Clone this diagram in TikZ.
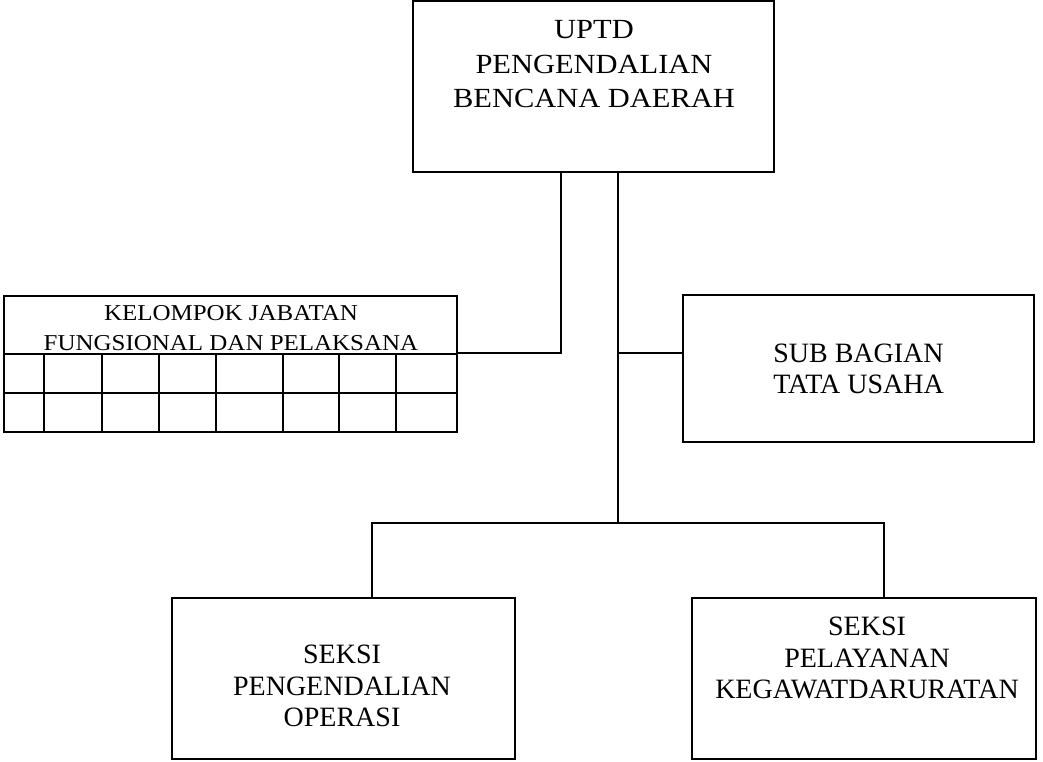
\documentclass[tikz,border=0pt]{standalone}
\usepackage{fontspec}
\setmainfont{Liberation Serif}
\newfontfamily\widefont[FakeStretch=1.1]{Liberation Serif}
\begin{document}
\begin{tikzpicture}[x=1pt,y=-1pt,line width=2pt,
  box/.style={draw,rectangle,inner sep=0pt,outer sep=0pt},
  txt/.style={anchor=base,inner sep=0pt,font=\fontsize{28}{30}\selectfont},
  toptxt/.style={anchor=base,inner sep=0pt,font=\widefont\fontsize{27.7}{30}\selectfont},
  tbltxt/.style={anchor=base,inner sep=0pt,font=\widefont\fontsize{22.7}{26}\selectfont}]
\useasboundingbox (0,0) rectangle (1043,761);
% boxes
\node[box,minimum width=361pt,minimum height=171pt] (uptd) at (593.5,86.5) {};
\node[box,minimum width=453pt,minimum height=136pt] (kel) at (230.5,364) {};
\node[box,minimum width=351pt,minimum height=147pt] (sub) at (858.5,368.5) {};
\node[box,minimum width=343pt,minimum height=161pt] (sk1) at (343.5,678.5) {};
\node[box,minimum width=344pt,minimum height=161pt] (sk2) at (864,678.5) {};
% table grid
\draw (kel.west |- 0,354) -- (kel.east |- 0,354);
\draw (kel.west |- 0,393) -- (kel.east |- 0,393);
\foreach \cx in {44,102,159,216,283,339,396}{
  \draw (\cx,354) -- (\cx,432);
}
% texts
\node[toptxt] (t1) at (594,38) {UPTD};
\node[toptxt] (t2) at (594,73) {PENGENDALIAN};
\node[toptxt] (t3) at (594,107) {BENCANA DAERAH};
\node[tbltxt] (k1) at (231,320) {KELOMPOK JABATAN};
\node[tbltxt] (k2) at (231,350) {FUNGSIONAL DAN PELAKSANA};
\node[txt] (s1) at (858.5,362) {SUB BAGIAN};
\node[txt] (s2) at (858.5,393) {TATA USAHA};
\node[txt] (a1) at (342,663) {SEKSI};
\node[txt] (a2) at (342,695) {PENGENDALIAN};
\node[txt] (a3) at (342,726) {OPERASI};
\node[txt] (b1) at (867,635) {SEKSI};
\node[txt] (b2) at (867,667) {PELAYANAN};
\node[txt] (b3) at (867,698) {KEGAWATDARURATAN};
% connectors
\coordinate (j1) at (561,353);
\coordinate (j2) at (618,353);
\coordinate (j3) at (618,523);
\coordinate (bl) at (372,523);
\coordinate (br) at (884,523);
\draw (uptd.south -| j1) -- (j1) -- (j1 -| kel.east);
\draw (uptd.south -| j2) -- (j3);
\draw (j2) -- (j2 -| sub.west);
\draw (bl |- sk1.north) -- (bl) -- (br) -- (br |- sk2.north);
\end{tikzpicture}
\end{document}
